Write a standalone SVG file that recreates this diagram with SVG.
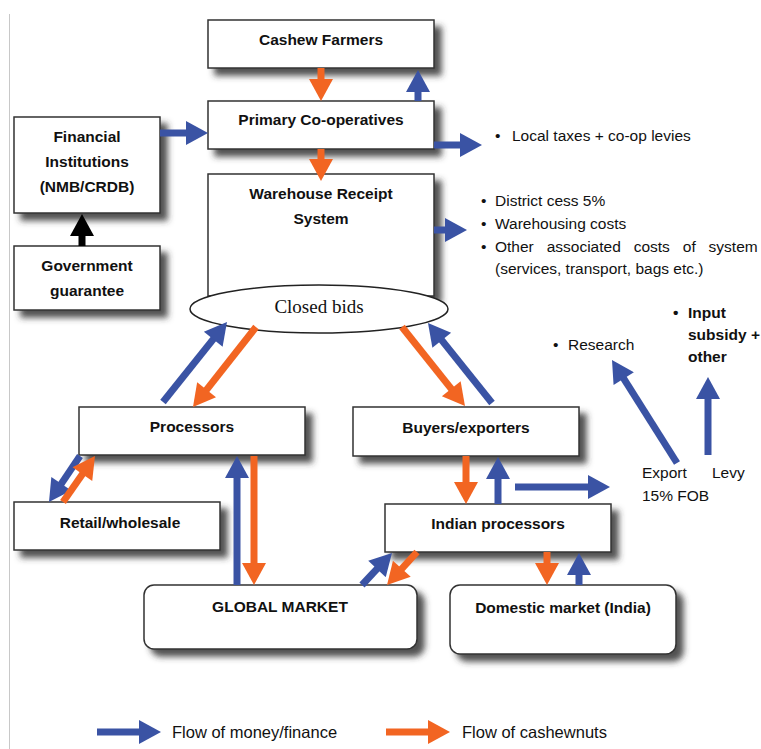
<svg xmlns="http://www.w3.org/2000/svg" width="761" height="749" viewBox="0 0 761 749">
<style>
.box{fill:#fff;stroke:#333;stroke-width:1.5;filter:url(#sh)}
.bt{font-family:"Liberation Sans",Arial,sans-serif;font-weight:bold;font-size:15.5px;fill:#111;text-anchor:middle}
.tx{font-family:"Liberation Sans",Arial,sans-serif;font-size:15.5px;fill:#111}
.txb{font-family:"Liberation Sans",Arial,sans-serif;font-size:15.5px;font-weight:bold;fill:#111}
.lg{font-family:"Liberation Sans",Arial,sans-serif;font-size:16.5px;fill:#111}
.blue{stroke:#3a53a4;stroke-width:7;fill:none;marker-end:url(#hb)}
.orange{stroke:#f26522;stroke-width:7;fill:none;marker-end:url(#ho)}
.black{stroke:#000;stroke-width:7;fill:none;marker-end:url(#hk)}
</style>
<defs>
<filter id="sh" x="-10%" y="-20%" width="130%" height="160%">
<feGaussianBlur in="SourceAlpha" stdDeviation="3"/>
<feOffset dx="7" dy="7" result="b"/>
<feFlood flood-color="#333" flood-opacity="0.85"/>
<feComposite in2="b" operator="in"/>
<feMerge><feMergeNode/><feMergeNode in="SourceGraphic"/></feMerge>
</filter>
<marker id="hb" markerUnits="userSpaceOnUse" markerWidth="24" markerHeight="24" refX="10" refY="12" orient="auto" viewBox="0 0 22 24"><path d="M0,0 L22,12 L0,24 z" fill="#3a53a4"/></marker>
<marker id="ho" markerUnits="userSpaceOnUse" markerWidth="24" markerHeight="24" refX="10" refY="12" orient="auto" viewBox="0 0 22 24"><path d="M0,0 L22,12 L0,24 z" fill="#f26522"/></marker>
<marker id="hk" markerUnits="userSpaceOnUse" markerWidth="24" markerHeight="24" refX="10" refY="12" orient="auto" viewBox="0 0 22 24"><path d="M0,0 L22,12 L0,24 z" fill="#000"/></marker>
</defs>
<rect width="761" height="749" fill="#fff"/>
<line x1="9.5" y1="14" x2="9.5" y2="749" stroke="#c8c8c8" stroke-width="1"/>

<g id="cashew-farmers"><rect class="box" x="208" y="20" width="226" height="48"/><text class="bt" x="321" y="45">Cashew Farmers</text></g>
<g id="primary-coops"><rect class="box" x="208" y="101" width="226" height="48"/><text class="bt" x="321" y="125">Primary Co-operatives</text></g>
<g id="financial-institutions"><rect class="box" x="14" y="117" width="146" height="96"/><text class="bt" x="87" y="142">Financial</text><text class="bt" x="87" y="167">Institutions</text><text class="bt" x="87" y="192">(NMB/CRDB)</text></g>
<g id="government-guarantee"><rect class="box" x="14" y="246" width="146" height="64"/><text class="bt" x="87" y="271">Government</text><text class="bt" x="87" y="296">guarantee</text></g>
<g id="warehouse-receipt"><rect class="box" x="208" y="174" width="226" height="122"/><text class="bt" x="321" y="199">Warehouse Receipt</text><text class="bt" x="321" y="224">System</text></g>
<g id="closed-bids"><ellipse cx="319" cy="309" rx="129" ry="24" fill="#fff" stroke="#222" stroke-width="1.5"/><text x="319" y="313" text-anchor="middle" font-family="Liberation Serif,Times New Roman,serif" font-size="19" fill="#111">Closed bids</text></g>
<g id="processors"><rect class="box" x="79" y="407" width="226" height="48"/><text class="bt" x="192" y="432">Processors</text></g>
<g id="buyers-exporters"><rect class="box" x="353" y="407" width="226" height="49"/><text class="bt" x="466" y="433">Buyers/exporters</text></g>
<g id="retail-wholesale"><rect class="box" x="14" y="502" width="206" height="48"/><text class="bt" x="120" y="528">Retail/wholesale</text></g>
<g id="indian-processors"><rect class="box" x="385" y="504" width="226" height="48"/><text class="bt" x="498" y="529">Indian processors</text></g>
<g id="global-market"><rect class="box" x="144" y="585" width="273" height="64" rx="10"/><text class="bt" x="280" y="612">GLOBAL MARKET</text></g>
<g id="domestic-market"><rect class="box" x="450" y="585" width="226" height="69" rx="10"/><text class="bt" x="563" y="613">Domestic market (India)</text></g>

<g id="local-taxes"><text class="tx" x="495" y="141">•</text><text class="tx" x="512" y="141">Local taxes + co-op levies</text></g>
<g id="wrs-costs">
<text class="tx" x="481" y="206">•</text><text class="tx" x="495" y="206">District cess 5%</text>
<text class="tx" x="481" y="229">•</text><text class="tx" x="495" y="229">Warehousing costs</text>
<text class="tx" x="481" y="252">•</text><text class="tx" x="495" y="252" word-spacing="8.6">Other associated costs of system</text>
<text class="tx" x="495" y="274">(services, transport, bags etc.)</text>
</g>
<g id="research"><text class="tx" x="553" y="350">•</text><text class="tx" x="568" y="350">Research</text></g>
<g id="input-subsidy"><text class="txb" x="673" y="318">•</text><text class="txb" x="688" y="318">Input</text><text class="txb" x="688" y="340">subsidy +</text><text class="txb" x="688" y="362">other</text></g>
<g id="export-levy"><text class="tx" x="642" y="478">Export</text><text class="tx" x="712" y="478">Levy</text><text class="tx" x="642" y="501">15% FOB</text></g>

<g id="connectors">
<line class="orange" x1="321" y1="68" x2="321" y2="89"/>
<line class="blue" x1="418" y1="101" x2="418" y2="82"/>
<line class="blue" x1="160" y1="133" x2="196" y2="133"/>
<line class="orange" x1="321" y1="149" x2="321" y2="169"/>
<line class="black" x1="82" y1="246" x2="82" y2="226"/>
<line class="blue" x1="434" y1="145" x2="470" y2="145"/>
<line class="blue" x1="434" y1="230" x2="455" y2="230"/>
<line class="blue" x1="163" y1="402" x2="219.5" y2="331.4"/>
<line class="orange" x1="256" y1="327" x2="200.4" y2="397.6"/>
<line class="orange" x1="402" y1="327" x2="457.5" y2="396.6"/>
<line class="blue" x1="492" y1="403" x2="435.5" y2="332.4"/>
<line class="blue" x1="80" y1="456" x2="55.7" y2="492.1"/>
<line class="orange" x1="63" y1="502" x2="88.1" y2="465.9"/>
<line class="blue" x1="237" y1="585" x2="237" y2="468"/>
<line class="orange" x1="254" y1="456" x2="254" y2="573"/>
<line class="orange" x1="466" y1="456" x2="466" y2="492"/>
<line class="blue" x1="498" y1="504" x2="498" y2="469"/>
<line class="blue" x1="515" y1="487" x2="598" y2="487"/>
<line class="orange" x1="547" y1="552" x2="547" y2="573"/>
<line class="blue" x1="579" y1="585" x2="579" y2="565"/>
<line class="blue" x1="362" y1="585" x2="383.8" y2="561.7"/>
<line class="orange" x1="417" y1="552" x2="395.1" y2="576.1"/>
<line class="blue" x1="677" y1="463" x2="618.4" y2="370.2"/>
<line class="blue" x1="708" y1="455" x2="708" y2="389"/>
</g>

<g id="legend">
<line class="blue" x1="97" y1="732" x2="149" y2="732"/>
<text class="lg" x="172" y="738">Flow of money/finance</text>
<line class="orange" x1="386" y1="732" x2="438" y2="732"/>
<text class="lg" x="462" y="738">Flow of cashewnuts</text>
</g>
</svg>
